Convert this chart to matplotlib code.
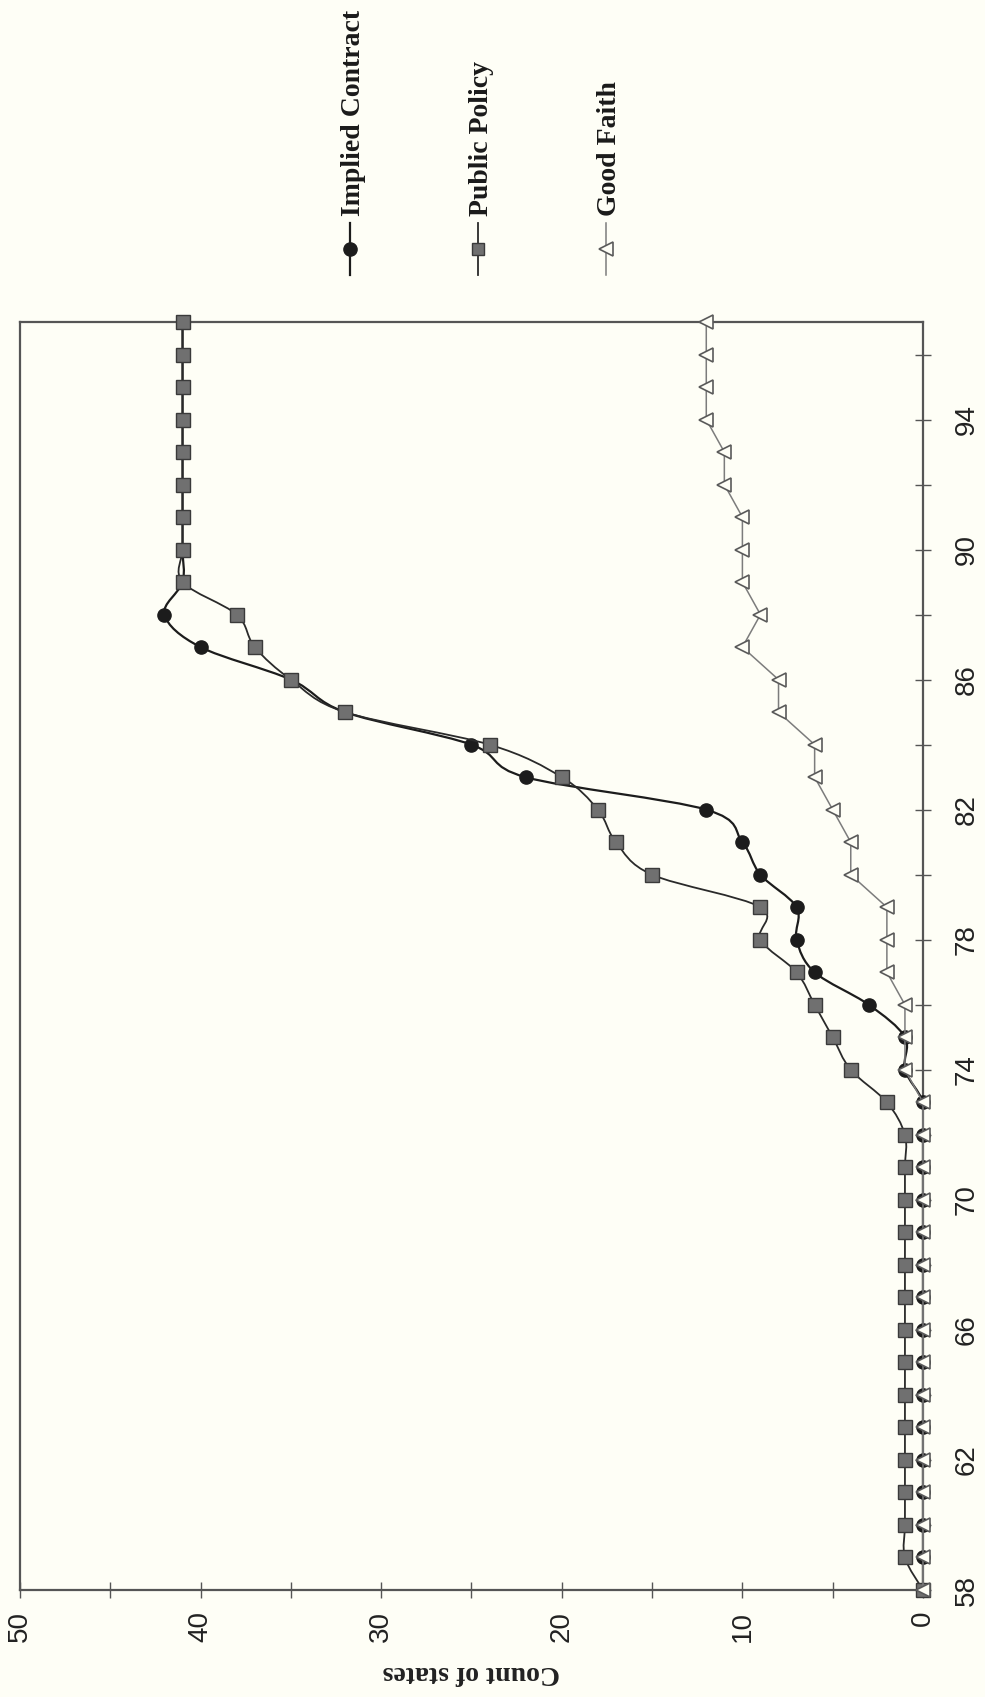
import matplotlib
matplotlib.use("Agg")
import matplotlib.pyplot as plt
from matplotlib.path import Path
from matplotlib.patches import PathPatch
from matplotlib.lines import Line2D

# ---------------- data ----------------
years = [58, 59, 60, 61, 62, 63, 64, 65, 66, 67, 68, 69, 70, 71, 72, 73, 74, 75, 76, 77,
         78, 79, 80, 81, 82, 83, 84, 85, 86, 87, 88, 89, 90, 91, 92, 93, 94, 95, 96, 97]
implied_contract = [0, 0, 0, 0, 0, 0, 0, 0, 0, 0, 0, 0, 0, 0, 0, 0, 1, 1, 3, 6,
                    7, 7, 9, 10, 12, 22, 25, 32, 35, 40, 42, 41, 41, 41, 41, 41, 41, 41, 41, 41]
public_policy = [0, 1, 1, 1, 1, 1, 1, 1, 1, 1, 1, 1, 1, 1, 1, 2, 4, 5, 6, 7,
                 9, 9, 15, 17, 18, 20, 24, 32, 35, 37, 38, 41, 41, 41, 41, 41, 41, 41, 41, 41]
good_faith = [0, 0, 0, 0, 0, 0, 0, 0, 0, 0, 0, 0, 0, 0, 0, 0, 1, 1, 1, 2,
              2, 2, 4, 4, 5, 6, 6, 8, 8, 10, 9, 10, 10, 10, 11, 11, 12, 12, 12, 12]

series_names = ["Implied Contract", "Public Policy", "Good Faith"]
year_ticks = [58, 62, 66, 70, 74, 78, 82, 86, 90, 94]
year_minor = [60, 64, 68, 72, 76, 80, 84, 88, 92, 96]
count_ticks = [0, 10, 20, 30, 40, 50]
count_minor = [5, 15, 25, 35, 45]
axis_label = "Count of states"

# ---------------- style ----------------
BG = "#fefef6"
W, H = 985, 1697
fig = plt.figure(figsize=(W / 100, H / 100), dpi=100, facecolor=BG)

L, R, T, B = 20, 923, 322, 1590
ax = fig.add_axes([L / W, 1 - B / H, (R - L) / W, (B - T) / H])
ax.set_facecolor(BG)
ax.set_xlim(50, 0)
ax.set_ylim(58, 97)

c_ic = "#1c1c1c"
c_pp_face = "#707070"
c_pp_edge = "#3a3a3a"
c_gf = "#7c7c7c"


def smooth_path(xs, ys):
    pts = list(zip(xs, ys))
    n = len(pts)
    verts = [pts[0]]
    codes = [Path.MOVETO]
    for i in range(n - 1):
        p0 = pts[i - 1] if i > 0 else pts[i]
        p1 = pts[i]
        p2 = pts[i + 1]
        p3 = pts[i + 2] if i + 2 < n else pts[i + 1]
        c1 = (p1[0] + (p2[0] - p0[0]) / 6.0, p1[1] + (p2[1] - p0[1]) / 6.0)
        c2 = (p2[0] - (p3[0] - p1[0]) / 6.0, p2[1] - (p3[1] - p1[1]) / 6.0)
        verts += [c1, c2, p2]
        codes += [Path.CURVE4, Path.CURVE4, Path.CURVE4]
    return Path(verts, codes)


# Implied contract (smoothed line, black circles)
ax.add_patch(PathPatch(smooth_path(implied_contract, years), fill=False,
                       edgecolor=c_ic, lw=1.6, zorder=2))
ax.plot(implied_contract, years, linestyle="none", marker="o", markersize=9.5,
        markerfacecolor=c_ic, markeredgecolor=c_ic, zorder=3, clip_on=False)

# Public policy (smoothed line, gray squares)
ax.add_patch(PathPatch(smooth_path(public_policy, years), fill=False,
                       edgecolor="#2a2a2a", lw=1.3, zorder=4))
ax.plot(public_policy, years, linestyle="none", marker="s", markersize=9.5,
        markerfacecolor=c_pp_face, markeredgecolor=c_pp_edge, markeredgewidth=1.0,
        zorder=5, clip_on=False)

# Good faith (straight gray line, open triangles)
ax.plot(good_faith, years, color=c_gf, lw=1.1, marker="<", markersize=10,
        markerfacecolor=BG, markeredgecolor="#5a5a5a", markeredgewidth=1.2,
        zorder=6, clip_on=False)

# axes / ticks
for s in ax.spines.values():
    s.set_color("#555555")
    s.set_linewidth(1.6)

ax.set_xticks(count_ticks)
ax.set_xticks(count_minor, minor=True)
ax.set_xticklabels([str(v) for v in count_ticks], rotation=90,
                   fontfamily="Liberation Sans", fontsize=20, color="#222222")
ax.yaxis.tick_right()
ax.set_yticks(year_ticks)
ax.set_yticks(year_minor, minor=True)
ax.set_yticklabels([str(v) for v in year_ticks], rotation=90, va="center",
                   fontfamily="Liberation Sans", fontsize=20, color="#222222")
ax.tick_params(which="both", direction="inout", length=12, width=1.0, color="#555555")
ax.tick_params(axis="x", which="both", pad=9)
ax.tick_params(axis="y", which="both", pad=16)

ax.set_xlabel(axis_label, rotation=180, fontfamily="Liberation Serif",
              fontweight="bold", fontsize=20, color="#222222", va="center")
ax.xaxis.set_label_coords(0.5, (B - 1673) / (B - T))

# manual rotated legend (top)
lax = fig.add_axes([0, 0, 1, 1], facecolor="none")
lax.set_xlim(0, W)
lax.set_ylim(H, 0)
lax.axis("off")
leg_x = [350, 478, 606]
styles = [
    dict(color=c_ic, lw=1.6, marker="o", markersize=9.5, markerfacecolor=c_ic, markeredgecolor=c_ic),
    dict(color="#2a2a2a", lw=1.3, marker="s", markersize=9, markerfacecolor=c_pp_face,
         markeredgecolor=c_pp_edge),
    dict(color=c_gf, lw=1.1, marker="<", markersize=10, markerfacecolor=BG,
         markeredgecolor="#5a5a5a", markeredgewidth=1.2),
]
for x, name, st in zip(leg_x, series_names, styles):
    lax.add_line(Line2D([x, x], [275, 223], **{k: v for k, v in st.items()
                                                if k in ("color", "lw")}))
    lax.add_line(Line2D([x], [249], linestyle="none",
                        **{k: v for k, v in st.items() if k not in ("color", "lw")}))
    lax.text(x + 3, 216, name, rotation=90, ha="center", va="bottom",
             fontfamily="Liberation Serif", fontweight="bold", fontsize=20, color="#1a1a1a")

fig.savefig("out.png", dpi=100, facecolor=BG)
